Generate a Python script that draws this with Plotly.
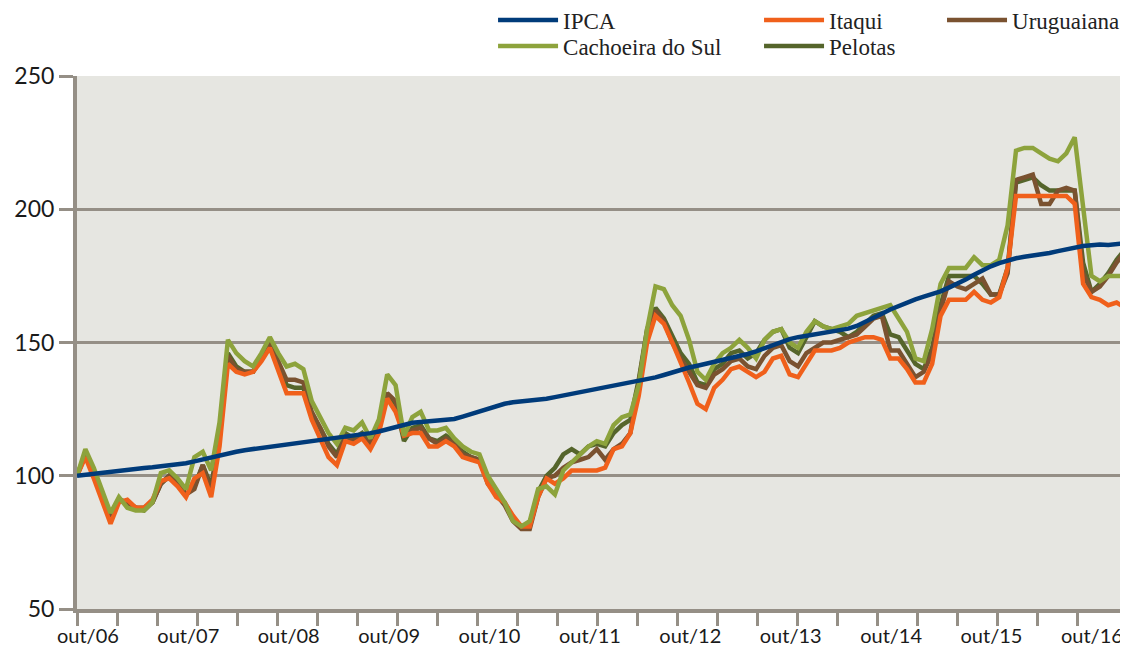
import plotly.graph_objects as go

# ---------------- data (monthly index, out/06 = 100) ----------------
YEAR_LABELS = ["out/06", "out/07", "out/08", "out/09", "out/10", "out/11",
               "out/12", "out/13", "out/14", "out/15", "out/16"]

ipca = [100.0, 100.4, 100.9, 101.3, 101.7, 102.0, 102.3, 102.6, 102.9, 103.2,
        103.5, 103.8, 104.2, 104.7, 105.4, 106.2, 106.9, 107.6, 108.3, 109.0,
        109.6, 110.0, 110.4, 110.8, 111.2, 111.6, 112.0, 112.5, 113.0, 113.6,
        114.0, 114.4, 114.8, 115.2, 115.6, 116.0, 116.6, 117.4, 118.3, 119.2,
        119.9, 120.2, 120.4, 120.5, 120.7, 121.3, 122.2, 123.2, 124.2, 125.2,
        126.2, 127.0, 127.6, 127.9, 128.1, 128.4, 128.9, 129.5, 130.1, 130.8,
        131.5, 132.1, 132.6, 133.1, 133.7, 134.3, 134.8, 135.4, 136.1, 136.9,
        137.8, 138.8, 139.8, 140.6, 141.3, 142.0, 142.7, 143.3, 144.0, 144.8,
        145.7, 146.7, 147.9, 149.1, 150.3, 151.3, 152.0, 152.5, 153.0, 153.5,
        154.0, 154.5, 155.2, 156.2, 157.6, 159.2, 160.8, 162.4, 163.8, 165.0,
        166.2, 167.2, 168.0, 169.2, 170.6, 172.0, 173.6, 175.4, 177.2, 178.6,
        179.8, 180.8, 181.6, 182.2, 182.6, 183.1, 183.6, 184.3, 185.0, 185.7,
        186.2, 186.5, 186.8, 186.6, 186.9, 187.2]

cachoeira = [100, 110, 103, 95, 86, 92, 88, 87, 87, 90,
             101, 102, 99, 95, 107, 109, 102, 120, 151, 146,
             143, 141, 146, 152, 146, 141, 142, 140, 128, 122,
             116, 112, 118, 117, 120, 114, 121, 138, 134, 115,
             122, 124, 117, 117, 118, 114, 111, 109, 108, 100,
             95, 90, 83, 81, 83, 95, 96, 93, 102, 105,
             108, 111, 113, 112, 119, 122, 123, 134, 155, 171,
             170, 164, 160, 151, 139, 136, 142, 146, 148, 151,
             148, 144, 151, 154, 155, 150, 148, 154, 158, 156,
             155, 156, 157, 160, 161, 162, 163, 164, 159, 154,
             144, 143, 155, 172, 178, 178, 178, 182, 179, 179,
             181, 194, 222, 223, 223, 221, 219, 218, 221, 227,
             202, 175, 173, 175, 175, 175]

itaqui = [100, 107, 99, 90, 82, 90, 91, 88, 88, 91,
          98, 99, 96, 92, 99, 101, 92, 111, 142, 139,
          138, 139, 143, 148, 139, 131, 131, 131, 121, 114,
          107, 104, 113, 112, 114, 110, 116, 129, 124, 115,
          116, 116, 111, 111, 113, 111, 107, 106, 105, 97,
          92, 90, 85, 81, 81, 92, 99, 97, 99, 102,
          102, 102, 102, 103, 110, 111, 116, 130, 150, 160,
          157, 150, 143, 135, 127, 125, 133, 136, 140, 141,
          139, 137, 139, 144, 145, 138, 137, 142, 147, 147,
          147, 148, 150, 151, 152, 152, 151, 144, 144, 140,
          135, 135, 142, 160, 166, 166, 166, 169, 166, 165,
          167, 178, 205, 205, 205, 205, 205, 205, 205, 202,
          172, 167, 166, 164, 165, 163]

pelotas = [100, 108, 100, 93, 84, 91, 90, 88, 87, 90,
           97, 100, 98, 93, 96, 104, 96, 115, 146, 141,
           139, 139, 144, 150, 142, 134, 133, 133, 123, 118,
           112, 108, 116, 114, 116, 112, 118, 130, 127, 113,
           118, 119, 114, 113, 115, 113, 109, 107, 106, 98,
           93, 90, 84, 81, 82, 94, 100, 103, 108, 110,
           108, 111, 112, 111, 116, 119, 121, 136, 155, 163,
           159, 152, 146, 142, 135, 134, 140, 142, 146, 147,
           144, 146, 151, 154, 155, 148, 146, 152, 158, 156,
           155, 154, 152, 154, 157, 160, 161, 153, 152, 147,
           142, 140, 148, 164, 175, 175, 175, 175, 172, 168,
           168, 178, 210, 211, 212, 209, 207, 207, 207, 207,
           180, 169, 172, 176, 181, 185]

uruguaiana = [100, 108, 100, 93, 83, 91, 90, 88, 88, 90,
              97, 100, 97, 93, 95, 104, 94, 114, 145, 140,
              139, 139, 144, 150, 143, 136, 136, 135, 124, 118,
              111, 107, 115, 113, 115, 112, 117, 131, 128, 116,
              117, 118, 114, 112, 114, 112, 108, 107, 106, 97,
              93, 89, 83, 80, 80, 92, 99, 100, 103, 105,
              106, 107, 110, 106, 110, 112, 116, 134, 154, 162,
              158, 150, 144, 139, 134, 133, 138, 140, 143, 144,
              141, 140, 145, 148, 149, 143, 141, 146, 148, 150,
              150, 151, 152, 153, 156, 159, 160, 147, 147, 142,
              137, 139, 146, 162, 173, 171, 170, 172, 174, 168,
              168, 176, 211, 212, 213, 202, 202, 207, 208, 207,
              176, 169, 171, 175, 180, 184]

months = list(range(len(ipca)))

# ---------------- styling ----------------
GRID = "#958f86"
BG = "#e6e6e1"
C_IPCA = "#003b7a"
C_ITAQUI = "#f0601b"
C_URU = "#7a5230"
C_CACH = "#8da33c"
C_PEL = "#55652b"
LW = 4.5

# label positions (month index) and tick-mark positions of the category axis
label_pos = [1.3 + 11.975 * k for k in range(len(YEAR_LABELS))]
tick_pos = [round(j * 4.771, 3) for j in range(26)] + [125]

fig = go.Figure()

def add(name, y, color, legend):
    fig.add_trace(go.Scatter(
        x=months, y=y, mode="lines", name=name,
        line=dict(color=color, width=LW),
        legend=legend,
    ))

add("Pelotas", pelotas, C_PEL, "legend5")
add("Uruguaiana", uruguaiana, C_URU, "legend3")
add("Itaqui", itaqui, C_ITAQUI, "legend2")
add("Cachoeira do Sul", cachoeira, C_CACH, "legend4")
add("IPCA", ipca, C_IPCA, "legend")

leg_common = dict(
    xanchor="left", yanchor="middle", orientation="v",
    bgcolor="rgba(0,0,0,0)",
    font=dict(family="Liberation Serif", size=23, color="#222222"),
    tracegroupgap=0, itemwidth=60,
)
ROW1, ROW2 = 1.1051, 1.0563
COL1, COL2, COL3 = 0.397, 0.6508, 0.8254

fig.update_layout(
    width=1120, height=639,
    margin=dict(l=69, r=3, t=68, b=38, autoexpand=False),
    plot_bgcolor=BG, paper_bgcolor="white",
    showlegend=True,
    legend=dict(x=COL1, y=ROW1, **leg_common),
    legend2=dict(x=COL2, y=ROW1, **leg_common),
    legend3=dict(x=COL3, y=ROW1, **leg_common),
    legend4=dict(x=COL1, y=ROW2, **leg_common),
    legend5=dict(x=COL2, y=ROW2, **leg_common),
)

fig.update_yaxes(
    range=[50, 250], tickvals=[50, 100, 150, 200, 250],
    showgrid=True, gridcolor=GRID, gridwidth=3,
    showline=True, linecolor=GRID, linewidth=4,
    ticks="outside", ticklen=14, tickwidth=3, tickcolor=GRID,
    tickfont=dict(family="Lato", size=23, color="#1a1a1a"),
    zeroline=False,
)

fig.update_xaxes(
    range=[0, 125], tickmode="array", tickvals=label_pos, ticktext=YEAR_LABELS,
    ticks="", showgrid=False, zeroline=False,
    showline=True, linecolor=GRID, linewidth=4,
    tickfont=dict(family="Lato", size=20, color="#1a1a1a"),
    ticklabelstandoff=6,
    minor=dict(tickmode="array", tickvals=tick_pos, ticks="outside",
               ticklen=13, tickwidth=3, tickcolor=GRID, showgrid=False),
)

fig.write_html("out.html")
